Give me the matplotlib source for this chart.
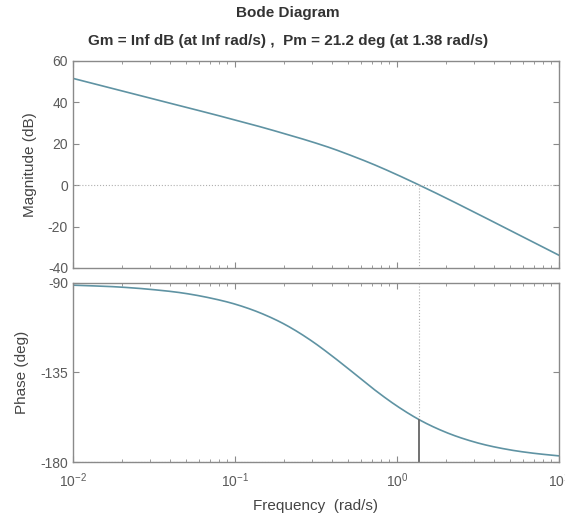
import numpy as np
import matplotlib
matplotlib.use("Agg")
import matplotlib.pyplot as plt
from matplotlib.ticker import LogLocator, NullFormatter, FixedLocator

plt.rcParams['font.family'] = ['Liberation Sans', 'DejaVu Sans']
plt.rcParams['axes.unicode_minus'] = False

# Values
freq = [0.01, 0.02, 0.03, 0.05, 0.07, 0.1, 0.15, 0.2, 0.3, 0.4, 0.5, 0.7,
        1.0, 1.38, 2.0, 3.0, 5.0, 7.0, 10.0]
mag_db = [51.6, 45.6, 42.1, 37.6, 34.7, 31.5, 27.8, 25.0, 20.9, 17.7, 14.9, 10.4,
          5.1, 0.0, -6.1, -13.0, -21.8, -27.6, -33.8]
phase_deg = [-91.1, -92.1, -93.2, -95.3, -97.5, -100.6, -105.7, -110.5, -119.3,
             -126.8, -133.0, -142.6, -151.8, -158.8, -165.0, -169.9, -173.9,
             -175.6, -176.9]
wc = 1.38
pm_phase = -158.8
mag_ticks = [-40, -20, 0, 20, 40, 60]
phase_ticks = [-180, -135, -90]
title1 = "Bode Diagram"
title2 = "Gm = Inf dB (at Inf rad/s) ,  Pm = 21.2 deg (at 1.38 rad/s)"


def smooth(xk, yk, xq):
    """Cubic Hermite resampling through the read points (log-frequency)."""
    xk = np.asarray(xk, float)
    yk = np.asarray(yk, float)
    h = np.diff(xk)
    d = np.diff(yk) / h
    m = np.empty_like(yk)
    m[0], m[-1] = d[0], d[-1]
    m[1:-1] = (d[:-1] * h[1:] + d[1:] * h[:-1]) / (h[:-1] + h[1:])
    idx = np.clip(np.searchsorted(xk, xq) - 1, 0, len(xk) - 2)
    t = (xq - xk[idx]) / h[idx]
    h00 = 2 * t**3 - 3 * t**2 + 1
    h10 = t**3 - 2 * t**2 + t
    h01 = -2 * t**3 + 3 * t**2
    h11 = t**3 - t**2
    return (h00 * yk[idx] + h10 * h[idx] * m[idx]
            + h01 * yk[idx + 1] + h11 * h[idx] * m[idx + 1])


lw = np.log10(freq)
wd = np.linspace(lw[0], lw[-1], 500)
fd = 10 ** wd
md = smooth(lw, mag_db, wd)
pd_ = smooth(lw, phase_deg, wd)

line_c = "#5f93a3"
frame_c = "#8a8a8a"
text_c = "#5a5a5a"

fig = plt.figure(figsize=(5.65, 5.22), dpi=100)
ax1 = fig.add_axes([0.129, 0.4866, 0.860, 0.3966])
ax2 = fig.add_axes([0.129, 0.1149, 0.860, 0.3430])

for ax in (ax1, ax2):
    ax.set_xscale('log')
    ax.set_xlim(0.01, 10)
    for s in ax.spines.values():
        s.set_color(frame_c)
        s.set_linewidth(1.0)
    ax.tick_params(which='both', direction='in', top=True, right=True,
                   colors=frame_c, labelcolor=text_c, labelsize=10)
    ax.tick_params(which='major', length=4)
    ax.tick_params(which='minor', length=2)
    ax.tick_params(axis='x', which='major', pad=7)
    ax.xaxis.set_major_locator(LogLocator(base=10, numticks=10))
    ax.xaxis.set_minor_locator(LogLocator(base=10, subs=np.arange(2, 10), numticks=10))
    ax.xaxis.set_minor_formatter(NullFormatter())

ax1.plot(fd, md, color=line_c, lw=1.2)
ax1.axhline(0, color="#b0b0b0", lw=0.8, ls=':')
ax1.plot([wc, wc], [0, -40], color="#b0b0b0", lw=0.8, ls=':')
ax1.set_ylim(-40, 60)
ax1.yaxis.set_major_locator(FixedLocator(mag_ticks))
ax1.set_xticklabels([])
ax1.set_ylabel("Magnitude (dB)", color="#444444", fontsize=11, labelpad=8)

ax2.plot(fd, pd_, color=line_c, lw=1.2)
ax2.axhline(-180, color="#b0b0b0", lw=0.8, ls=':')
ax2.plot([wc, wc], [-90, pm_phase], color="#b0b0b0", lw=0.8, ls=':')
ax2.plot([wc, wc], [pm_phase, -180], color="#666666", lw=1.3)
ax2.set_ylim(-180, -90)
ax2.yaxis.set_major_locator(FixedLocator(phase_ticks))
ax2.set_ylabel("Phase (deg)", color="#444444", fontsize=11, labelpad=8)
ax2.set_xlabel("Frequency  (rad/s)", color="#444444", fontsize=11, labelpad=6)

fig.text(0.51, 0.975, title1, ha='center', va='center', fontsize=11,
         fontweight='bold', color="#333333")
fig.text(0.51, 0.922, title2, ha='center', va='center', fontsize=11,
         fontweight='bold', color="#333333")

fig.savefig("out.png", dpi=100)
